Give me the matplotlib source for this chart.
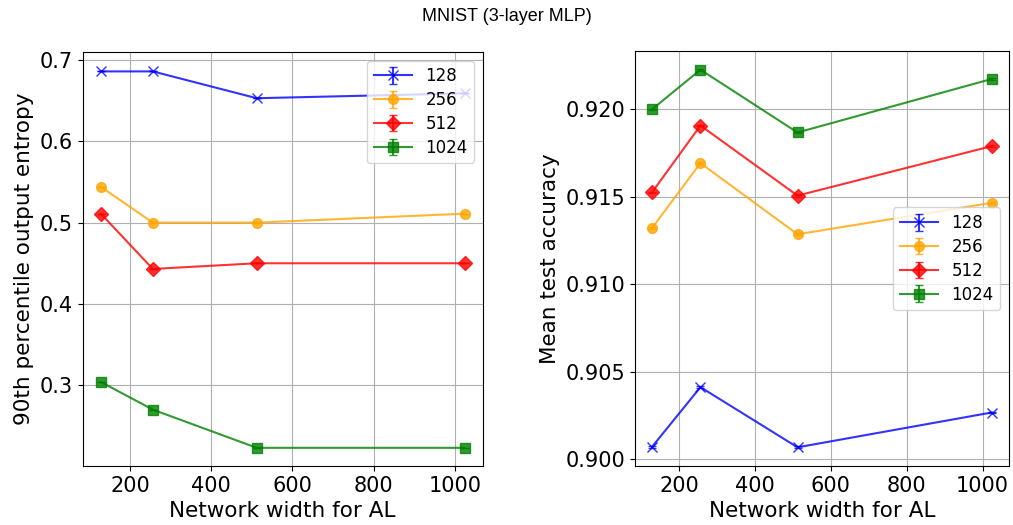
import matplotlib
matplotlib.use("Agg")
import matplotlib.pyplot as plt
import numpy as np

widths = [128, 256, 512, 1024]
series_labels = ["128", "256", "512", "1024"]

entropy_128 = [0.686, 0.686, 0.653, 0.659]
entropy_256 = [0.544, 0.500, 0.500, 0.511]
entropy_512 = [0.511, 0.443, 0.450, 0.450]
entropy_1024 = [0.304, 0.270, 0.223, 0.223]

acc_128 = [0.9007, 0.90412, 0.90068, 0.90267]
acc_256 = [0.91321, 0.91693, 0.91286, 0.91466]
acc_512 = [0.91525, 0.91908, 0.91507, 0.91790]
acc_1024 = [0.92000, 0.92227, 0.91868, 0.92174]

err_entropy = [0.0, 0.0, 0.0, 0.0]
err_acc = [0.00005, 0.00005, 0.00005, 0.00005]

colors = ["blue", "orange", "red", "green"]
markers = ["x", "o", "D", "s"]

fig = plt.figure(figsize=(10.13, 5.25), dpi=100)
ax1 = fig.add_axes([0.0816, 0.112, 0.395, 0.7884])
ax2 = fig.add_axes([0.6268, 0.112, 0.3689, 0.7902])

ent = [entropy_128, entropy_256, entropy_512, entropy_1024]
acc = [acc_128, acc_256, acc_512, acc_1024]

for vals, c, m, lab in zip(ent, colors, markers, series_labels):
    ax1.errorbar(widths, vals, yerr=err_entropy, color=c, marker=m, label=lab,
                 alpha=0.8, capsize=3, markersize=7, linewidth=1.5)
for vals, c, m, lab in zip(acc, colors, markers, series_labels):
    ax2.errorbar(widths, vals, yerr=err_acc, color=c, marker=m, label=lab,
                 alpha=0.8, capsize=3, markersize=7, linewidth=1.5)

ax1.set_ylim(0.2004, 0.7095)
ax2.set_ylim(0.8996, 0.92332)
ax2.set_yticks([0.900, 0.905, 0.910, 0.915, 0.920])
ax2.set_yticklabels(["0.900", "0.905", "0.910", "0.915", "0.920"])

for ax in (ax1, ax2):
    ax.grid(True)
    ax.set_xticks([200, 400, 600, 800, 1000])
    ax.tick_params(labelsize=15)
    ax.set_xlabel("Network width for AL", fontsize=15.5)

ax1.set_ylabel("90th percentile output entropy", fontsize=15.5)
ax2.set_ylabel("Mean test accuracy", fontsize=15.5)

leg_kw = dict(fontsize=12, handlelength=2.3, labelspacing=0.35)
ax1.legend(loc="upper right", **leg_kw)
ax2.legend(loc="center right", **leg_kw)

fig.suptitle("MNIST (3-layer MLP)", fontsize=13, family="Liberation Sans", y=0.985)

fig.savefig("out.png", dpi=100)
